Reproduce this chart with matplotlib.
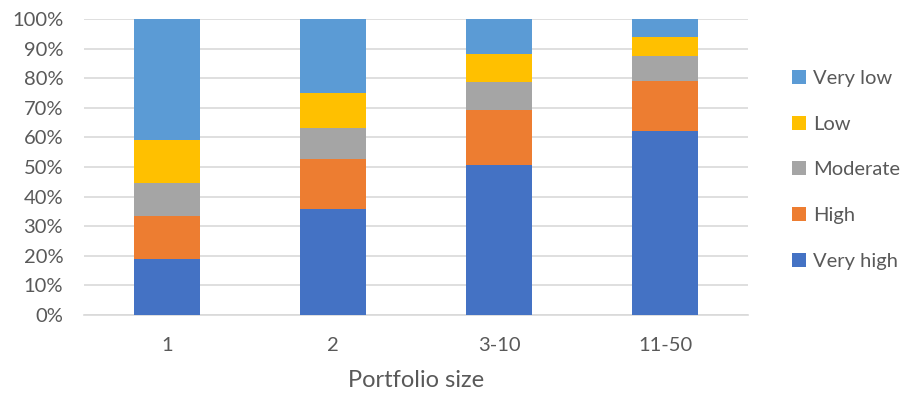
import matplotlib
matplotlib.use("Agg")
import matplotlib.pyplot as plt
from matplotlib.patches import Patch
import numpy as np

# Share of each risk level by portfolio size (percent)
categories = ["1", "2", "3-10", "11-50"]
series_names = ["Very high", "High", "Moderate", "Low", "Very low"]
very_high = [18.8, 35.9, 50.6, 62.0]
high = [14.5, 16.8, 18.5, 17.2]
moderate = [11.3, 10.6, 9.7, 8.4]
low = [14.5, 11.7, 9.3, 6.2]
very_low = [40.9, 25.0, 11.9, 6.2]
y_ticks = [0, 10, 20, 30, 40, 50, 60, 70, 80, 90, 100]

colors = ["#4472C4", "#ED7D31", "#A5A5A5", "#FFC000", "#5B9BD5"]
text_color = "#595959"
grid_color = "#D9D9D9"

plt.rcParams["font.family"] = ["Lato", "DejaVu Sans"]

fig = plt.figure(figsize=(9.09, 3.96), dpi=100)
ax = fig.add_axes([0.0924, 0.2045, 0.7305, 0.7475])

x = np.arange(len(categories))
bottom = np.zeros(len(categories))
for name, vals, col in zip(series_names, [very_high, high, moderate, low, very_low], colors):
    ax.bar(x, vals, width=0.4, bottom=bottom, color=col, label=name, zorder=3)
    bottom += np.array(vals)

ax.set_xlim(-0.5, len(categories) - 0.5)
ax.set_ylim(0, 100)
ax.set_yticks(y_ticks)
ax.set_yticklabels([f"{t}%" for t in y_ticks])
ax.set_xticks(x)
ax.set_xticklabels(categories)

ax.yaxis.grid(True, color=grid_color, linewidth=1.2, zorder=0)
ax.set_axisbelow(True)
for side in ["top", "right", "left"]:
    ax.spines[side].set_visible(False)
ax.spines["bottom"].set_color(grid_color)
ax.spines["bottom"].set_linewidth(1.2)
ax.tick_params(axis="both", length=0, labelsize=14.5, colors=text_color)
ax.tick_params(axis="y", pad=15)
ax.tick_params(axis="x", pad=16)

ax.set_xlabel("Portfolio size", fontsize=17, color=text_color, labelpad=11)

handles = [Patch(facecolor=c, edgecolor="none") for c in colors][::-1]
labels = series_names[::-1]
fig.legend(handles, labels, loc="center left", bbox_to_anchor=(0.871, 0.571),
           frameon=False, fontsize=14.5, labelcolor=text_color,
           handlelength=0.7, handleheight=0.7, handletextpad=0.35,
           labelspacing=1.42, borderpad=0, borderaxespad=0)

fig.savefig("out.png", dpi=100)
